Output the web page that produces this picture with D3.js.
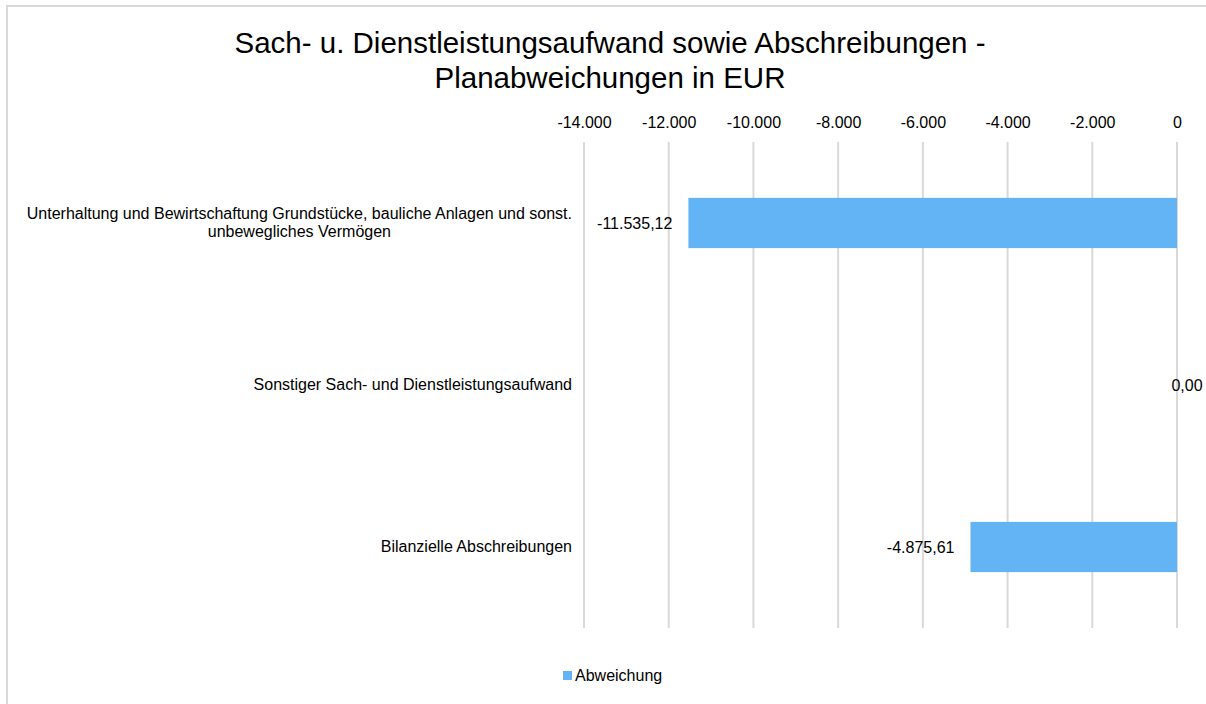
<!DOCTYPE html>
<html>
<head>
<meta charset="utf-8">
<script src="https://cdn.jsdelivr.net/npm/d3@7"></script>
<style>
  body { margin: 0; background: #fff; }
  text { font-family: "Liberation Sans", Arial, sans-serif; fill: #000; }
</style>
</head>
<body>
<div class="chart"></div>
<script>
// data
const categories = [
  ["Unterhaltung und Bewirtschaftung Grundstücke, bauliche Anlagen und sonst.", "unbewegliches Vermögen"],
  ["Sonstiger Sach- und Dienstleistungsaufwand"],
  ["Bilanzielle Abschreibungen"]
];
const values = [-11535.12, 0, -4875.61];
const valueLabels = ["-11.535,12", "0,00", "-4.875,61"];
const tickValues = [-14000, -12000, -10000, -8000, -6000, -4000, -2000, 0];
const seriesName = "Abweichung";
const titleLines = ["Sach- u. Dienstleistungsaufwand sowie Abschreibungen -", "Planabweichungen in EUR"];

const W = 1206, H = 704;
const barColor = "#63b4f4";

const svg = d3.select(".chart").append("svg")
  .attr("width", W).attr("height", H);

// outer border (only top & left visible)
svg.append("path")
  .attr("d", `M7,${H} V6 H${W}`)
  .attr("fill", "none").attr("stroke", "#d9d9d9").attr("stroke-width", 2);

// title
svg.append("g").selectAll("text").data(titleLines).enter().append("text")
  .attr("x", 610).attr("y", (d, i) => 53 + i * 35)
  .attr("text-anchor", "middle").attr("font-size", "29.5px")
  .text(d => d);

const plot = {left: 584, right: 1177, top: 142, bottom: 628};

const xScale = d3.scaleLinear().domain([-14000, 0]).range([plot.left, plot.right]);
const yScale = d3.scaleBand().domain(d3.range(categories.length))
  .range([plot.top, plot.bottom]).paddingInner(0.69).paddingOuter(0.345);

// gridlines
svg.append("g").selectAll("line").data(tickValues).enter().append("line")
  .attr("x1", d => xScale(d)).attr("x2", d => xScale(d))
  .attr("y1", plot.top).attr("y2", plot.bottom)
  .attr("stroke", "#d9d9d9").attr("stroke-width", 2);

// axis on top
const fmt = d => d3.format(",")(d).replace(/,/g, ".").replace("−", "-");
const xAxis = d3.axisTop(xScale).tickValues(tickValues).tickFormat(fmt).tickSize(0).tickPadding(0);
const axisG = svg.append("g").attr("transform", `translate(0, 128)`).call(xAxis);
axisG.select(".domain").remove();
axisG.selectAll("text").attr("font-size", "16px").attr("fill", "#000")
  .attr("font-family", "Liberation Sans, Arial, sans-serif");

// bars
svg.append("g").selectAll("rect").data(values).enter().append("rect")
  .attr("x", d => xScale(Math.min(0, d)))
  .attr("width", d => Math.abs(xScale(d) - xScale(0)))
  .attr("y", (d, i) => yScale(i))
  .attr("height", yScale.bandwidth())
  .attr("fill", barColor);

// value labels
svg.append("g").selectAll("text").data(values).enter().append("text")
  .attr("x", d => d < 0 ? xScale(d) - 16 : xScale(d) + 10)
  .attr("y", (d, i) => yScale(i) + yScale.bandwidth() / 2 + 6)
  .attr("text-anchor", d => d < 0 ? "end" : "middle")
  .attr("font-size", "16px")
  .text((d, i) => valueLabels[i]);

// category labels (multi-line, centered within a right-aligned block)
const catG = svg.append("g");
categories.forEach((lines, i) => {
  const cy = yScale(i) + yScale.bandwidth() / 2;
  const t = catG.append("text").attr("font-size", "16px").attr("text-anchor", "middle");
  const n = lines.length;
  const spans = lines.map((l, j) => t.append("tspan").attr("y", cy + 5 + (j - (n - 1) / 2) * 18).text(l));
  const maxW = d3.max(spans, s => s.node().getComputedTextLength());
  spans.forEach(s => s.attr("x", 572 - maxW / 2));
});

// legend
svg.append("rect").attr("x", 563).attr("y", 671).attr("width", 9).attr("height", 9).attr("fill", barColor);
svg.append("text").attr("x", 575).attr("y", 681).attr("font-size", "16px").text(seriesName);
</script>
</body>
</html>
